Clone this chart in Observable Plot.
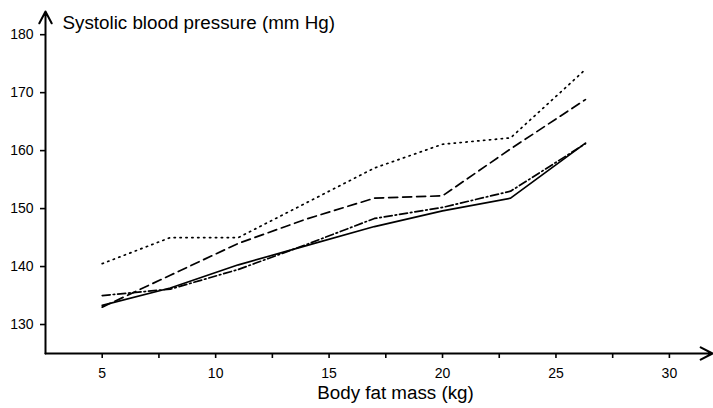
<!DOCTYPE html>
<html>
<head>
<meta charset="utf-8">
<script src="https://cdn.jsdelivr.net/npm/d3@7"></script>
<script src="https://cdn.jsdelivr.net/npm/@observablehq/plot@0.6"></script>
<style>
  html, body { margin: 0; padding: 0; background: #fff; }
  #chart { width: 713px; height: 408px; }
</style>
</head>
<body>
<div id="chart"></div>
<script>
// Body fat mass (kg)
const fatMass = [5, 8, 11, 14, 17, 20, 23, 26.3];
// Systolic blood pressure (mm Hg), four groups
const solidSeries   = [133.3, 136.3, 140.3, 143.6, 146.9, 149.6, 151.8, 161.3];
const dashedSeries  = [133.0, 138.5, 144.0, 148.2, 151.8, 152.2, 160.3, 168.8];
const dottedSeries  = [140.5, 145.0, 145.0, 151.0, 157.0, 161.1, 162.2, 174.0];
const dashDotSeries = [135.0, 136.1, 139.5, 143.8, 148.3, 150.2, 153.0, 161.2];

const xMajorTicks = [5, 10, 15, 20, 25, 30];
const xMinorTicks = [7.5, 12.5, 17.5, 22.5, 27.5];
const yTicks = [130, 140, 150, 160, 170, 180];

const xDomain = [2.5, 31.9];
const yDomain = [125, 184];

const titleText = "Systolic blood pressure (mm Hg)";
const xLabelText = "Body fat mass (kg)";

const series = [
  {name: "solid", values: solidSeries, dash: null},
  {name: "dashed", values: dashedSeries, dash: "9,5"},
  {name: "dotted", values: dottedSeries, dash: "1.3,4.6"},
  {name: "dashdot", values: dashDotSeries, dash: "8,3,1.5,3"}
];

const lineMarks = series.map(s =>
  Plot.line(fatMass.map((x, i) => ({x, y: s.values[i]})), {
    x: "x", y: "y", stroke: "#000", strokeWidth: 1.7,
    strokeDasharray: s.dash, strokeLinejoin: "round"
  })
);

const font = "'Liberation Sans', Arial, sans-serif";

const chart = Plot.plot({
  width: 713,
  height: 408,
  marginLeft: 45,
  marginRight: 1,
  marginTop: 11,
  marginBottom: 55,
  style: {fontFamily: font, fontSize: "14px", color: "#000", background: "#fff"},
  x: {domain: xDomain},
  y: {domain: yDomain},
  marks: [
    Plot.axisX(xMajorTicks, {tickSize: 5, tickPadding: 10, strokeWidth: 1.6, label: null, fontSize: 14}),
    Plot.axisX(xMinorTicks, {tickSize: 5, tickFormat: () => "", strokeWidth: 1.6, label: null}),
    Plot.axisY(yTicks, {tickSize: 5, tickPadding: 7, strokeWidth: 1.6, label: null, fontSize: 14}),
    ...lineMarks,
    Plot.arrow([{x1: xDomain[0], y1: yDomain[0], x2: xDomain[1], y2: yDomain[0]}],
      {x1: "x1", y1: "y1", x2: "x2", y2: "y2", stroke: "#000", strokeWidth: 2, headLength: 10, headAngle: 55}),
    Plot.arrow([{x1: xDomain[0], y1: yDomain[0], x2: xDomain[0], y2: yDomain[1]}],
      {x1: "x1", y1: "y1", x2: "x2", y2: "y2", stroke: "#000", strokeWidth: 2, headLength: 10, headAngle: 55}),
    Plot.text([titleText], {text: d => d, frameAnchor: "top-left", textAnchor: "start", lineAnchor: "top",
      dx: 17, dy: 4, fontSize: 18.8, fill: "#000"}),
    Plot.text([xLabelText], {text: d => d, frameAnchor: "bottom", textAnchor: "middle",
      dx: 16.5, dy: 45, fontSize: 18.8, fill: "#000"})
  ]
});
document.getElementById("chart").appendChild(chart);
</script>
</body>
</html>
